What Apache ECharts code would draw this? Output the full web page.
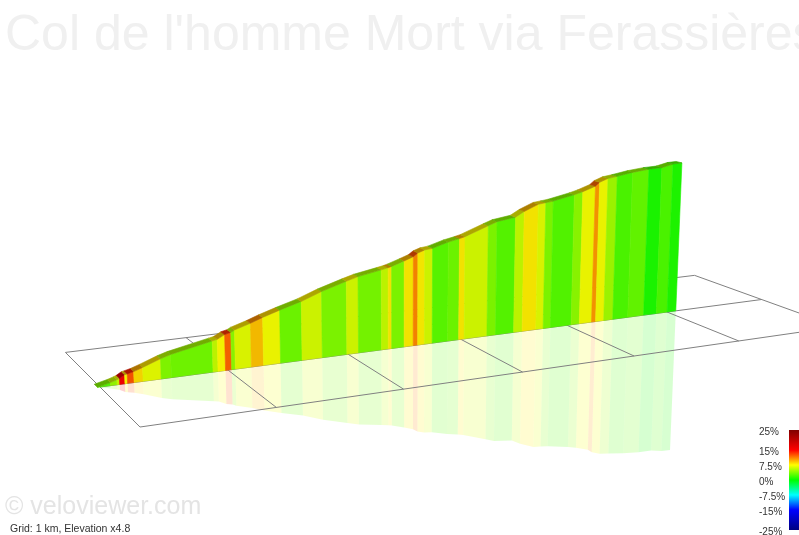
<!DOCTYPE html>
<html lang="fr">
<head>
    <meta charset="UTF-8">
    <title>Col de l'homme Mort via Ferassières</title>
    <script src="https://cdn.jsdelivr.net/npm/echarts@6/dist/echarts.min.js"></script>
    <style>
        body { margin: 0; padding: 0; background: #fff; overflow: hidden; }
        #chart { width: 799px; height: 535px; }
    </style>
</head>
<body>
    <div id="chart"></div>
    <script>
        // Route profile
        var titleText = "Col de l'homme Mort via Ferassières";
        var stationKm = [0, 0.10, 0.15, 0.17, 0.21, 0.23, 0.28, 0.35, 0.49, 0.57, 0.90, 0.94, 1.00, 1.05, 1.08, 1.21, 1.31, 1.45, 1.63, 1.80, 2.01, 2.11, 2.31, 2.37, 2.40, 2.51, 2.59, 2.63, 2.69, 2.76, 2.90, 3.00, 3.05, 3.26, 3.34, 3.51, 3.59, 3.72, 3.79, 3.86, 4.06, 4.14, 4.26, 4.30, 4.38, 4.47, 4.62, 4.78, 4.91, 5.02, 5.11];
        var elevationM = [0, 6, 10, 12, 18, 19, 22, 28, 41, 47, 64, 66, 74, 77, 81, 91, 100, 111, 124, 140, 156, 163, 172, 175, 177, 186, 193, 200, 205, 207, 217, 222, 225, 244, 251, 257, 268, 281, 283, 285, 295, 300, 310, 318, 325, 328, 334, 338, 339, 345, 346];
        // grade of the stretch after each station
        var gradePct = [2.5, 4.5, 6, 15.5, 7.5, 12.5, 8.5, 6.8, 3.9, 3.4, 5.8, 7.5, 12, 4.2, 6.7, 9.3, 7.2, 3.3, 6.3, 3.8, 6.3, 3.6, 5.8, 8, 3.8, 8, 11, 7.9, 6.3, 2.7, 3.3, 8, 6.3, 3.8, 2.6, 5.8, 8, 6.7, 3.8, 2.5, 4.2, 7.2, 10.5, 7.2, 4.8, 2.3, 3, 0.8, 2.3, 0.9];

        // Ground grid, 1 km squares either side of the route
        var gridKm = [0, 1, 2, 3, 4, 5, 6];
        var gridSideKm = [-1, 0, 1];

        // Legend
        var legendGrades = [25, 15, 7.5, 0, -7.5, -15, -25];
        var legendLabels = ['25%', '15%', '7.5%', '0%', '-7.5%', '-15%', '-25%'];
        var legendColors = ['#800000', '#ff0000', '#ffff00', '#00ff00', '#00ffff', '#0000ff', '#000080'];

        var routeStartKm = -0.02;
        var roadWidthKm = 0.085;
        var mirrorScale = 0.94;
        var mirrorOpacity = 0.18;

        function hexToRgb(hex) {
            return [parseInt(hex.substr(1, 2), 16), parseInt(hex.substr(3, 2), 16), parseInt(hex.substr(5, 2), 16)];
        }

        // grade -> colour, same scale as the legend
        function gradeColor(g, shade) {
            var i = 0;
            while (i < legendGrades.length - 2 && g < legendGrades[i + 1]) i++;
            var t = (legendGrades[i] - g) / (legendGrades[i] - legendGrades[i + 1]);
            var a = hexToRgb(legendColors[i]);
            var b = hexToRgb(legendColors[i + 1]);
            var c = [0, 1, 2].map(function (k) {
                return Math.round((a[k] + (b[k] - a[k]) * t) * shade);
            });
            return 'rgb(' + c.join(',') + ')';
        }

        // camera: km along the route, km across it, metres up -> axis values
        function project(km, side, metres) {
            var den = 1 + 0.03326 * km - 0.0729 * side;
            var x = (100 + 135.6 * km + 29.8 * side) / den;
            var y = (387 - 4.62 * km + 8.9 * side) / den;
            var h = metres * 0.5 / den;
            return [x + h * (x - 400) * 0.00015, y - h];
        }

        function routePoint(i, side, metres) {
            return project(stationKm[i] + routeStartKm, side, metres);
        }

        function polygon(api, pts, style) {
            return {
                type: 'polygon',
                shape: { points: pts.map(function (p) { return api.coord(p); }) },
                style: style
            };
        }

        function renderMirror(params, api) {
            var i = api.value(0);
            return polygon(api, [
                routePoint(i, 0, 0),
                routePoint(i + 1, 0, 0),
                routePoint(i + 1, 0, -elevationM[i + 1] * mirrorScale),
                routePoint(i, 0, -elevationM[i] * mirrorScale)
            ], { fill: gradeColor(gradePct[i], 1), opacity: mirrorOpacity });
        }

        function renderWall(params, api) {
            var i = api.value(0);
            var wallColor = gradeColor(gradePct[i], 0.95);
            // road surface reads a little yellower than the wall under it
            var roadColor = gradeColor(gradePct[i] + 1.5, 0.68);
            return {
                type: 'group',
                children: [
                    polygon(api, [
                        routePoint(i, 0, 0),
                        routePoint(i + 1, 0, 0),
                        routePoint(i + 1, 0, elevationM[i + 1]),
                        routePoint(i, 0, elevationM[i])
                    ], { fill: wallColor, stroke: wallColor, lineWidth: 0.6 }),
                    polygon(api, [
                        routePoint(i, 0, elevationM[i]),
                        routePoint(i + 1, 0, elevationM[i + 1]),
                        routePoint(i + 1, -roadWidthKm, elevationM[i + 1]),
                        routePoint(i, -roadWidthKm, elevationM[i])
                    ], { fill: roadColor, stroke: roadColor, lineWidth: 0.6 })
                ]
            };
        }

        // one entry per grid line: [km from, side from, km to, side to]
        var gridLines = [];
        gridKm.forEach(function (km) {
            gridLines.push([km, gridSideKm[0], km, gridSideKm[2]]);
        });
        gridSideKm.forEach(function (side) {
            gridLines.push([gridKm[0], side, gridKm[6], side]);
        });

        function renderGrid(params, api) {
            var a = api.coord(project(api.value(0), api.value(1), 0));
            var b = api.coord(project(api.value(2), api.value(3), 0));
            return {
                type: 'line',
                shape: { x1: a[0], y1: a[1], x2: b[0], y2: b[1] },
                style: { stroke: '#808080', lineWidth: 1 }
            };
        }

        var stretchIndex = gradePct.map(function (g, i) { return [i]; });

        // legend bar runs 2px per percent around y = 480
        function legendY(g) {
            return 480 - 2 * g;
        }
        var barStops = legendGrades.map(function (g, i) {
            return { offset: (legendGrades[0] - g) / (legendGrades[0] - legendGrades[6]), color: legendColors[i] };
        });
        var legendGraphic = [{
            type: 'rect',
            shape: { x: 789, y: legendY(25), width: 10, height: legendY(-25) - legendY(25) },
            style: { fill: new echarts.graphic.LinearGradient(0, 0, 0, 1, barStops) }
        }];
        legendLabels.forEach(function (label, i) {
            legendGraphic.push({
                type: 'text',
                x: 759,
                y: legendY(legendGrades[i]) + 2,
                style: {
                    text: label,
                    font: '10px "Liberation Sans"',
                    fill: '#333',
                    textVerticalAlign: 'middle'
                }
            });
        });

        var chart = echarts.init(document.getElementById('chart'), null, { renderer: 'canvas' });
        chart.setOption({
            animation: false,
            tooltip: { show: false },
            grid: { left: 0, right: 0, top: 0, bottom: 0 },
            xAxis: { type: 'value', min: 0, max: 799, show: false },
            yAxis: { type: 'value', min: 0, max: 535, inverse: true, show: false },
            graphic: [{
                type: 'text', x: 5, y: 36, silent: true,
                style: { text: titleText, font: '50px "Liberation Sans"', fill: '#f0f0f0', textVerticalAlign: 'middle' }
            }, {
                type: 'text', x: 5, y: 507, silent: true,
                style: { text: '© veloviewer.com', font: '25px "Liberation Sans"', fill: '#e4e4e4', textVerticalAlign: 'middle' }
            }, {
                type: 'text', x: 10, y: 529, silent: true,
                style: { text: 'Grid: 1 km, Elevation x4.8', font: '10.5px "Liberation Sans"', fill: '#333', textVerticalAlign: 'middle' }
            }].concat(legendGraphic),
            series: [
                { type: 'custom', z: 1, silent: true, data: stretchIndex, renderItem: renderMirror },
                { type: 'custom', z: 2, silent: true, data: gridLines, renderItem: renderGrid },
                { type: 'custom', z: 3, silent: true, data: stretchIndex, renderItem: renderWall }
            ]
        });

        window.addEventListener('resize', function () {
            chart.resize();
        });
    </script>
</body>
</html>
